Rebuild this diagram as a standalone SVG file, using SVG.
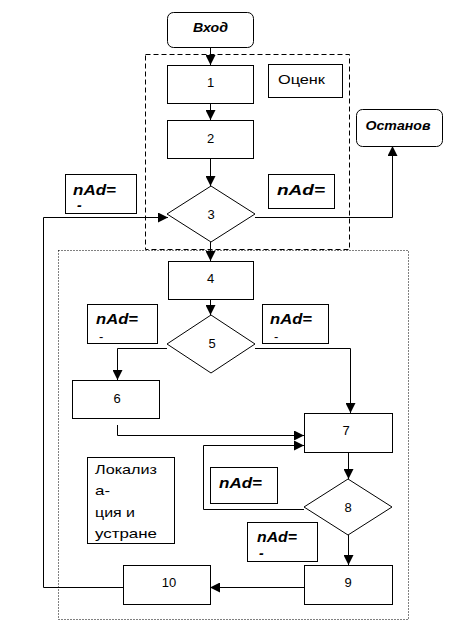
<svg xmlns="http://www.w3.org/2000/svg" width="464" height="642" viewBox="0 0 464 642">
<style>
.b{fill:#fff;stroke:#000;stroke-width:1}
.l{fill:none;stroke:#000;stroke-width:1}
.n{font-family:"Liberation Sans",Arial,sans-serif;font-size:13px;fill:#000;text-anchor:middle}
.t{font-family:"Liberation Sans",Arial,sans-serif;font-size:13px;fill:#000}
.k{font-family:"Liberation Sans",Arial,sans-serif;font-size:14px;font-weight:bold;font-style:italic;fill:#000}
.s{font-family:"Liberation Sans",Arial,sans-serif;font-size:12px;font-weight:bold;font-style:italic;fill:#000;text-anchor:middle}
</style>
<defs>
<marker id="a" viewBox="0 0 10 10" refX="10" refY="5" markerWidth="10" markerHeight="10" markerUnits="userSpaceOnUse" orient="auto">
<path d="M0,0 L10,5 L0,10 z" fill="#000"/>
</marker>
</defs>
<rect x="0" y="0" width="464" height="642" fill="#fff"/>
<g id="zones">
<rect x="145.500" y="54.500" width="204" height="195" fill="none" stroke="#000" stroke-dasharray="5,3"/>
<rect x="58.500" y="250.500" width="350" height="369" fill="none" stroke="#000" stroke-dasharray="1,2"/>
</g>
<g id="connectors">
<path class="l" d="M210.500,48 V65" marker-end="url(#a)"/>
<path class="l" d="M210.500,104 V120" marker-end="url(#a)"/>
<path class="l" d="M210.500,159 V186" marker-end="url(#a)"/>
<path class="l" d="M210.500,242 V261" marker-end="url(#a)"/>
<path class="l" d="M210.500,300 V315" marker-end="url(#a)"/>
<path class="l" d="M255,217.500 H392.500 V146" marker-end="url(#a)"/>
<path class="l" d="M123,587.500 H43.500 V217.500 H168" marker-end="url(#a)"/>
<path class="l" d="M167,348.500 H117.500 V380" marker-end="url(#a)"/>
<path class="l" d="M255,348.500 H350.500 V413" marker-end="url(#a)"/>
<path class="l" d="M117.500,425 V435.500 H304" marker-end="url(#a)"/>
<path class="l" d="M304,509.500 H203.500 V445.500 H304" marker-end="url(#a)"/>
<path class="l" d="M348.500,452 V479" marker-end="url(#a)"/>
<path class="l" d="M348.500,535 V565" marker-end="url(#a)"/>
<path class="l" d="M304,587.500 H210" marker-end="url(#a)"/>
</g>
<g id="vhod"><rect class="b" x="167.500" y="12.500" width="86" height="35" rx="6"/><text class="s" x="210.500" y="32" textLength="35" lengthAdjust="spacingAndGlyphs">Вход</text></g>
<g id="n1"><rect class="b" x="167.500" y="65.500" width="86" height="38"/><text class="n" x="210.500" y="87">1</text></g>
<g id="n2"><rect class="b" x="167.500" y="120.500" width="86" height="38"/><text class="n" x="210.500" y="143">2</text></g>
<g id="ocenk"><rect class="b" x="268.500" y="64.500" width="74" height="33"/><text class="t" x="278" y="84" textLength="47" lengthAdjust="spacingAndGlyphs">Оценк</text></g>
<g id="n3"><polygon class="b" points="211,186 255,214 211,242 167,214"/><text class="n" x="211" y="219">3</text></g>
<g id="nad1"><rect class="b" x="268.500" y="174.500" width="66" height="34"/><text class="k" x="277" y="195" textLength="48" lengthAdjust="spacingAndGlyphs">nAd=</text></g>
<g id="nad0"><rect class="b" x="65.500" y="174.500" width="71" height="39"/><text class="k" x="73" y="195" textLength="43" lengthAdjust="spacingAndGlyphs">nAd=</text><text class="k" x="77" y="210">-</text></g>
<g id="ostanov"><rect class="b" x="356.500" y="109.500" width="86" height="37" rx="6"/><text class="s" x="398" y="130" textLength="65" lengthAdjust="spacingAndGlyphs">Останов</text></g>
<g id="n4"><rect class="b" x="168.500" y="261.500" width="85" height="38"/><text class="n" x="210.500" y="283">4</text></g>
<g id="n5"><polygon class="b" points="211,315 255,344 211,373 167,344"/><text class="n" x="212" y="348">5</text></g>
<g id="nad2"><rect class="b" x="87.500" y="304.500" width="70" height="39"/><text class="k" x="96" y="324" textLength="42" lengthAdjust="spacingAndGlyphs">nAd=</text><text class="t" x="99" y="341">-</text></g>
<g id="nad3"><rect class="b" x="262.500" y="304.500" width="66" height="39"/><text class="k" x="270" y="324" textLength="42" lengthAdjust="spacingAndGlyphs">nAd=</text><text class="t" x="274" y="341">-</text></g>
<g id="n6"><rect class="b" x="72.500" y="380.500" width="87" height="38"/><text class="n" x="117" y="403">6</text></g>
<g id="n7"><rect class="b" x="304.500" y="413.500" width="88" height="39"/><text class="n" x="346" y="435">7</text></g>
<g id="lokaliz"><rect class="b" x="87.500" y="457.500" width="87" height="86"/>
<text class="t" x="95" y="474" textLength="62" lengthAdjust="spacingAndGlyphs">Локализ</text><text class="t" x="95" y="495" textLength="15" lengthAdjust="spacingAndGlyphs">а-</text><text class="t" x="95" y="517" textLength="40" lengthAdjust="spacingAndGlyphs">ция и</text><text class="t" x="95" y="538" textLength="62" lengthAdjust="spacingAndGlyphs">устране</text></g>
<g id="nad4"><rect class="b" x="210.500" y="467.500" width="67" height="36"/><text class="k" x="219" y="488" textLength="43" lengthAdjust="spacingAndGlyphs">nAd=</text></g>
<g id="n8"><polygon class="b" points="348,479 392,507 348,535 304,507"/><text class="n" x="348" y="512">8</text></g>
<g id="nad5"><rect class="b" x="247.500" y="522.500" width="70" height="39"/><text class="k" x="257" y="542" textLength="40" lengthAdjust="spacingAndGlyphs">nAd=</text><text class="k" x="259" y="558">-</text></g>
<g id="n9"><rect class="b" x="304.500" y="565.500" width="88" height="39"/><text class="n" x="348" y="587">9</text></g>
<g id="n10"><rect class="b" x="123.500" y="565.500" width="87" height="39"/><text class="n" x="169" y="587">10</text></g>
</svg>
